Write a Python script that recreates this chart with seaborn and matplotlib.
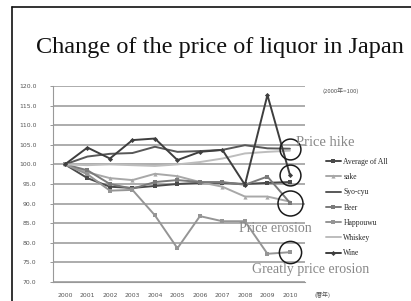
import matplotlib
matplotlib.use("Agg")
import matplotlib.pyplot as plt
import seaborn as sns
import pandas as pd
from matplotlib.lines import Line2D

years = ["2000", "2001", "2002", "2003", "2004", "2005", "2006", "2007", "2008", "2009", "2010"]
average = [100, 96.5, 94.3, 94.0, 94.5, 95.0, 95.3, 95.3, 95.0, 95.3, 95.5]
sake = [100, 98.0, 96.5, 96.0, 97.6, 97.0, 95.5, 94.3, 91.8, 91.8, 90.5]
syocyu = [100, 102.0, 102.7, 102.9, 104.5, 103.2, 103.4, 103.7, 104.9, 104.1, 104.0]
beer = [100, 98.5, 95.0, 93.8, 95.5, 96.0, 95.5, 95.5, 94.8, 96.9, 90.2]
happouwu = [100, 97.5, 93.3, 93.5, 87.0, 78.6, 86.8, 85.5, 85.5, 77.2, 77.6]
whiskey = [100, 99.8, 100.0, 99.8, 99.6, 100.0, 100.6, 101.5, 102.8, 103.2, 103.5]
wine = [100, 104.3, 101.5, 106.2, 106.6, 101.1, 103.2, 103.7, 94.8, 117.7, 97.3]

series_names = ["Average of All", "sake", "Syo-cyu", "Beer", "Happouwu", "Whiskey", "Wine"]
series_vals = [average, sake, syocyu, beer, happouwu, whiskey, wine]

rows = []
for name, vals in zip(series_names, series_vals):
    for i, (y, v) in enumerate(zip(years, vals)):
        rows.append({"idx": i, "year": y, "series": name, "value": v})
df = pd.DataFrame(rows)

colors = {"Average of All": "#4a4a4a", "sake": "#a8a8a8", "Syo-cyu": "#585858",
          "Beer": "#7a7a7a", "Happouwu": "#959595", "Whiskey": "#bdbdbd", "Wine": "#3e3e3e"}
markers = {"Average of All": "s", "sake": "^", "Syo-cyu": "", "Beer": "s",
           "Happouwu": "s", "Whiskey": "", "Wine": "D"}
msize = {"Average of All": 3.2, "sake": 3.0, "Syo-cyu": 0, "Beer": 3.0,
         "Happouwu": 2.8, "Whiskey": 0, "Wine": 2.6}

sns.set_style("white")
plt.rcParams['font.family'] = ['DejaVu Sans', 'Noto Sans CJK JP']

fig = plt.figure(figsize=(4.11, 3.01), dpi=100)
ax = fig.add_axes([53/411, 1-282/301, (305-53)/411, (282-86)/301])

for name in series_names:
    sub = df[df["series"] == name]
    sns.lineplot(data=sub, x="idx", y="value", ax=ax, color=colors[name],
                 marker=markers[name] if markers[name] else None,
                 markersize=msize[name], markeredgewidth=0,
                 linewidth=1.4, label=name, legend=False)

ax.set_xlim(-0.53, 10.67)
ax.set_ylim(70, 120)
ax.set_yticks([70 + 5*k for k in range(11)])
ax.set_yticklabels([f"{70 + 5*k:.1f}" for k in range(11)], fontsize=4.4, color="#555555")
ax.set_xticks(range(len(years)))
ax.set_xticklabels(years, fontsize=4.4, color="#555555")
ax.tick_params(axis="y", pad=10, length=2, width=0.6, color="#888888", left=True)
ax.tick_params(axis="x", pad=8, length=0)
for k in range(11):
    ax.axhline(70 + 5*k, color="#acacac", linewidth=1.4, zorder=0)
for s in ["top", "right"]:
    ax.spines[s].set_visible(False)
ax.spines["left"].set_color("#999999")
ax.spines["left"].set_linewidth(0.8)
ax.spines["bottom"].set_color("#999999")
ax.spines["bottom"].set_linewidth(0.8)
ax.set_xlabel("")
ax.set_ylabel("")

# circles at 2010 values
last = len(years) - 1
for vals, sz in [(syocyu, 15), (wine, 15), (beer, 18), (happouwu, 16)]:
    ax.plot([last], [vals[last]], marker="o", markersize=sz, mfc="none",
            mec="#1a1a1a", mew=1.1, clip_on=False, zorder=6, linestyle="none")

# legend
handles = [Line2D([0], [0], color=colors[n], lw=1.4,
                  marker=markers[n] if markers[n] else None,
                  markersize=msize[n], markeredgewidth=0) for n in series_names]
fig.legend(handles, series_names, loc="upper left", bbox_to_anchor=(322/411, 1-154/301),
           frameon=False, prop={"family": "Liberation Serif", "size": 5.5},
           handlelength=2.0, handletextpad=0.3, labelspacing=0.95, borderpad=0)

serif = "Liberation Serif"
fig.text(220/411, 1-47/301, "Change of the price of liquor in Japan", ha="center", va="center",
         family=serif, fontsize=17.5, color="#111111")
fig.text(296/411, 1-142/301, "Price hike", ha="left", va="center", family=serif,
         fontsize=10.5, color="#888888")
fig.text(275/411, 1-228/301, "Price erosion", ha="center", va="center", family=serif,
         fontsize=10, color="#888888")
fig.text(311/411, 1-270/301, "Greatly price erosion", ha="center", va="center", family=serif,
         fontsize=10, color="#888888")
fig.text(341/411, 1-91/301, "(2000年=100)", ha="center", va="center",
         family=['Noto Sans CJK JP', 'DejaVu Sans'], fontsize=4.3, color="#555555")
fig.text(322/411, 1-295/301, "(暦年)", ha="center", va="center",
         family=['Noto Sans CJK JP', 'DejaVu Sans'], fontsize=4.3, color="#555555")

# frame lines
fig.add_artist(Line2D([12/411, 1], [1-7/301, 1-7/301], color="#111111", lw=1.2,
                      transform=fig.transFigure))
fig.add_artist(Line2D([12/411, 12/411], [0, 1-7/301], color="#111111", lw=1.2,
                      transform=fig.transFigure))

fig.savefig("out.png", dpi=100, facecolor="white")
